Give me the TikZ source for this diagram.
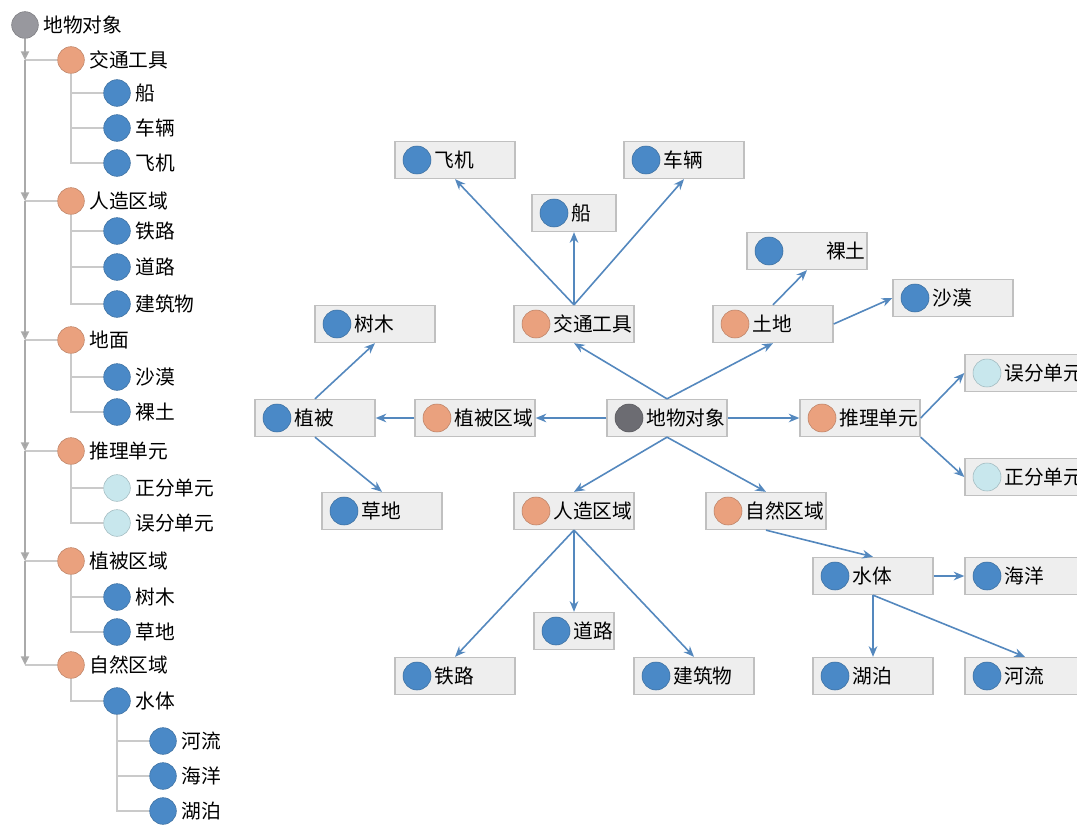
\documentclass[tikz,border=0pt]{standalone}
\usepackage{fontspec}
\setmainfont{Noto Sans CJK SC}
\usepackage{xcolor}
\usetikzlibrary{positioning, arrows.meta}
\definecolor{dotblue}{RGB}{74,137,199}
\definecolor{dotorange}{RGB}{234,161,126}
\definecolor{dotgray}{RGB}{108,108,114}
\definecolor{dotpale}{RGB}{200,231,237}
\definecolor{rootgray}{RGB}{152,152,158}
\definecolor{boxfill}{RGB}{238,238,238}
\definecolor{boxline}{RGB}{192,192,192}
\definecolor{linkblue}{RGB}{84,136,190}
\definecolor{twigline}{RGB}{202,202,202}
\definecolor{trunkline}{RGB}{170,170,170}

\begin{document}
\begin{tikzpicture}[x=0.75pt, y=-0.75pt, font=\fontsize{14.8}{17}\selectfont,
                    box/.style = {draw=boxline, line width=1pt, fill=boxfill, minimum height=27.75pt, inner xsep=1pt, text width=88pt, align=left, execute at begin node=\hspace*{28.5pt}, path picture={\filldraw[fill=#1, draw=#1!80!black, line width=0.4pt] ([xshift=16.5pt]path picture bounding box.west) circle (10.5pt);}},
                    dot/.style = {circle, fill=#1, draw=#1!80!black, line width=0.4pt, minimum size=20pt, inner sep=0pt, label distance=3pt},
                    link/.style = {draw=linkblue, line width=1.2pt, -{Stealth[length=8pt, width=6.5pt]}},
                    trunk/.style = {draw=trunkline, line width=1.5pt, -{Triangle[length=6.5pt, width=6pt, fill=gray!80]}},
                    twig/.style = {draw=twigline, line width=1.6pt}]
                        \useasboundingbox (0,0) rectangle (1077,824);
                        \node[dot=rootgray, label=right:地物对象] (Lroot) at (25,25) {};
                        \node[dot=dotorange, label=right:交通工具] (Lvehicle) at (71,60) {};
                        \node[dot=dotblue, label=right:船] (Lship) at (117,93) {};
                        \node[dot=dotblue, label=right:车辆] (Lcar) at (117,128) {};
                        \node[dot=dotblue, label=right:飞机] (Lplane) at (117,163) {};
                        \node[dot=dotorange, label=right:人造区域] (Lartificial) at (71,201) {};
                        \node[dot=dotblue, label=right:铁路] (Lrailway) at (117,231) {};
                        \node[dot=dotblue, label=right:道路] (Lroad) at (117,267) {};
                        \node[dot=dotblue, label=right:建筑物] (Lbuilding) at (117,304) {};
                        \node[dot=dotorange, label=right:地面] (Lground) at (71,340) {};
                        \node[dot=dotblue, label=right:沙漠] (Ldesert) at (117,377) {};
                        \node[dot=dotblue, label=right:裸土] (Lsoil) at (117,412) {};
                        \node[dot=dotorange, label=right:推理单元] (Linfer) at (71,451) {};
                        \node[dot=dotpale, label=right:正分单元] (Lcorrect) at (117,488) {};
                        \node[dot=dotpale, label=right:误分单元] (Lwrong) at (117,523) {};
                        \node[dot=dotorange, label=right:植被区域] (Lvegzone) at (71,561) {};
                        \node[dot=dotblue, label=right:树木] (Ltree) at (117,597) {};
                        \node[dot=dotblue, label=right:草地] (Lgrass) at (117,632) {};
                        \node[dot=dotorange, label=right:自然区域] (Lnatural) at (71,665) {};
                        \node[dot=dotblue, label=right:水体] (Lwater) at (117,701) {};
                        \node[dot=dotblue, label=right:河流] (Lriver) at (163,741) {};
                        \node[dot=dotblue, label=right:海洋] (Locean) at (163,776) {};
                        \node[dot=dotblue, label=right:湖泊] (Llake) at (163,811) {};
                        \draw[twig] (Lroot |- Lvehicle) -- (Lvehicle);
                        \draw[twig] (Lroot |- Lartificial) -- (Lartificial);
                        \draw[twig] (Lroot |- Lground) -- (Lground);
                        \draw[twig] (Lroot |- Linfer) -- (Linfer);
                        \draw[twig] (Lroot |- Lvegzone) -- (Lvegzone);
                        \draw[twig] (Lroot |- Lnatural) -- (Lnatural);
                        \draw[twig] (Lvehicle) |- (Lship);
                        \draw[twig] (Lvehicle) |- (Lcar);
                        \draw[twig] (Lvehicle) |- (Lplane);
                        \draw[twig] (Lartificial) |- (Lrailway);
                        \draw[twig] (Lartificial) |- (Lroad);
                        \draw[twig] (Lartificial) |- (Lbuilding);
                        \draw[twig] (Lground) |- (Ldesert);
                        \draw[twig] (Lground) |- (Lsoil);
                        \draw[twig] (Linfer) |- (Lcorrect);
                        \draw[twig] (Linfer) |- (Lwrong);
                        \draw[twig] (Lvegzone) |- (Ltree);
                        \draw[twig] (Lvegzone) |- (Lgrass);
                        \draw[twig] (Lnatural) |- (Lwater);
                        \draw[twig] (Lwater) |- (Lriver);
                        \draw[twig] (Lwater) |- (Locean);
                        \draw[twig] (Lwater) |- (Llake);
                        \draw[trunk] (Lroot) -- (Lroot |- Lvehicle);
                        \draw[trunk] (Lroot |- Lvehicle) -- (Lroot |- Lartificial);
                        \draw[trunk] (Lroot |- Lartificial) -- (Lroot |- Lground);
                        \draw[trunk] (Lroot |- Lground) -- (Lroot |- Linfer);
                        \draw[trunk] (Lroot |- Linfer) -- (Lroot |- Lvegzone);
                        \draw[trunk] (Lroot |- Lvegzone) -- (Lroot |- Lnatural);
                        \node[box=dotgray] (root) at (667,418) {地物对象};
                        \node[box=dotorange] (vehicle) at (574,324) {交通工具};
                        \node[box=dotorange] (land) at (773,324) {土地};
                        \node[box=dotorange] (vegzone) at (475,418) {植被区域};
                        \node[box=dotorange] (infer) at (860,418) {推理单元};
                        \node[box=dotorange] (artificial) at (574,511) {人造区域};
                        \node[box=dotorange] (natural) at (766,511) {自然区域};
                        \node[box=dotblue] (plane) at (455,160) {飞机};
                        \node[box=dotblue] (car) at (684,160) {车辆};
                        \node[box=dotblue, text width=61pt] (ship) at (574,213) {船};
                        \node[box=dotblue, align=right] (soil) at (807,251) {裸土};
                        \node[box=dotblue] (desert) at (953,298) {沙漠};
                        \node[box=dotblue] (tree) at (375,324) {树木};
                        \node[box=dotblue] (vegetation) at (315,418) {植被};
                        \node[box=dotblue] (grass) at (382,511) {草地};
                        \node[box=dotpale] (wrong) at (1025,373) {误分单元};
                        \node[box=dotpale] (correct) at (1025,477) {正分单元};
                        \node[box=dotblue] (water) at (873,576) {水体};
                        \node[box=dotblue] (ocean) at (1025,576) {海洋};
                        \node[box=dotblue, text width=58pt] (road) at (574,631) {道路};
                        \node[box=dotblue] (railway) at (455,676) {铁路};
                        \node[box=dotblue] (building) at (694,676) {建筑物};
                        \node[box=dotblue] (lake) at (873,676) {湖泊};
                        \node[box=dotblue] (river) at (1025,676) {河流};
                        \draw[link] (root.north) -- (vehicle.south);
                        \draw[link] (root.north) -- (land.south);
                        \draw[link] (root.west) -- (vegzone.east);
                        \draw[link] (root.east) -- (infer.west);
                        \draw[link] (root.south) -- (artificial.north);
                        \draw[link] (root.south) -- (natural.north);
                        \draw[link] (vehicle.north) -- (plane.south);
                        \draw[link] (vehicle.north) -- (ship.south);
                        \draw[link] (vehicle.north) -- (car.south);
                        \draw[link] (land.north) -- (soil.south);
                        \draw[link] (land.east) -- (desert.west);
                        \draw[link] (vegzone.west) -- (vegetation.east);
                        \draw[link] (vegetation.north) -- (tree.south);
                        \draw[link] (vegetation.south) -- (grass.north);
                        \draw[link] (infer.east) -- (wrong.west);
                        \draw[link] (infer.south east) -- (correct.west);
                        \draw[link] (artificial.south) -- (railway.north);
                        \draw[link] (artificial.south) -- (road.north);
                        \draw[link] (artificial.south) -- (building.north);
                        \draw[link] (natural.south) -- (water.north);
                        \draw[link] (water.east) -- (ocean.west);
                        \draw[link] (water.south) -- (lake.north);
                        \draw[link] (water.south) -- (river.north);
                    \end{tikzpicture}
\end{document}
